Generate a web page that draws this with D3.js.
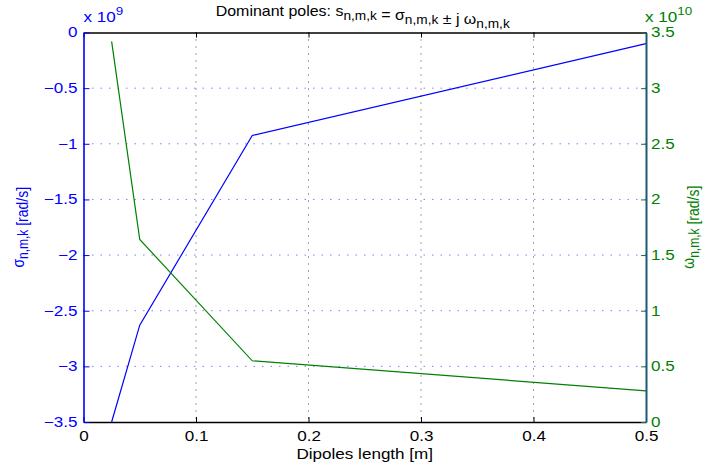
<!DOCTYPE html>
<html>
<head>
<meta charset="utf-8">
<script src="https://cdn.jsdelivr.net/npm/d3@7"></script>
<style>
  body { margin: 0; background: #fff; }
  text { font-family: "Liberation Sans", Arial, sans-serif; }
</style>
</head>
<body>
<svg id="chart" width="706" height="470"></svg>
<script>
// dipole lengths [m]
let lengths = [0.025, 0.05, 0.15, 0.5]
// real part (x 1e9 rad/s)
let sigma = [-3.5, -2.63, -0.925, -0.1]
// imaginary part (x 1e10 rad/s)
let omega = [3.42, 1.64, 0.55, 0.28]

let xTicks = [0, 0.1, 0.2, 0.3, 0.4, 0.5]
let leftTicks = [0, -0.5, -1, -1.5, -2, -2.5, -3, -3.5]
let rightTicks = [0, 0.5, 1, 1.5, 2, 2.5, 3, 3.5]

let blue = "#0000ff"
let green = "#008000"
let rightAxisColor = "#1a5a78"

let svg = d3.select("#chart")
let pLeft = 83.5, pRight = 646, pTop = 32.5, pBottom = 422
let fontSize = "14px"
let subSize = "12px"
// the original picture is a bit wider than tall, text looks stretched sideways
let sx = 1.22

let x = d3.scaleLinear().domain([0, 0.5]).range([pLeft, pRight])
let yL = d3.scaleLinear().domain([-3.5, 0]).range([pBottom, pTop])
let yR = d3.scaleLinear().domain([0, 3.5]).range([pBottom, pTop])

let fmt = d => d === 0 ? "0" : String(d).replace("-", "\u2212")

// stretch text horizontally around its own anchor
function stretch(sel, s) {
  sel.each(function() {
    let t = d3.select(this)
    let x0 = +t.attr("x") || 0
    t.attr("transform", `translate(${x0 * (1 - s)},0) scale(${s},1)`)
  })
}

// grid
svg.append("g").selectAll("line")
  .data(leftTicks.slice(1, -1))
  .join("line")
  .attr("x1", pLeft).attr("x2", pRight)
  .attr("y1", d => yL(d)).attr("y2", d => yL(d))
  .attr("stroke", "#8080ff")
  .attr("stroke-width", 1)
  .attr("stroke-dasharray", "1.5,7")
svg.append("g").selectAll("line")
  .data(xTicks.slice(1, -1))
  .join("line")
  .attr("x1", d => x(d)).attr("x2", d => x(d))
  .attr("y1", pTop).attr("y2", pBottom)
  .attr("stroke", "#444")
  .attr("stroke-width", 1)
  .attr("stroke-dasharray", "1,6")

// lines
let lineL = d3.line().x((d, i) => x(lengths[i])).y(d => yL(d))
let lineR = d3.line().x((d, i) => x(lengths[i])).y(d => yR(d))
svg.append("path").datum(sigma)
  .attr("d", lineL).attr("fill", "none").attr("stroke", blue).attr("stroke-width", 1.2)
svg.append("path").datum(omega)
  .attr("d", lineR).attr("fill", "none").attr("stroke", green).attr("stroke-width", 1.2)

// x axis (bottom + top), ticks inward
let xAxis = svg.append("g").attr("transform", `translate(0,${pBottom})`)
  .call(d3.axisBottom(x).tickValues(xTicks).tickSizeInner(-5).tickSizeOuter(0).tickPadding(9).tickFormat(fmt))
xAxis.select(".domain").attr("stroke", "#000").attr("stroke-width", 1.3)
xAxis.selectAll("text").style("font-size", fontSize).attr("fill", "#000").call(stretch, sx)
let xTop = svg.append("g").attr("transform", `translate(0,${pTop})`)
  .call(d3.axisTop(x).tickValues(xTicks).tickSizeInner(-5).tickSizeOuter(0).tickFormat(""))
xTop.select(".domain").attr("stroke", "#000").attr("stroke-width", 1.3)

// left axis
let lAxis = svg.append("g").attr("transform", `translate(${pLeft},0)`)
  .call(d3.axisLeft(yL).tickValues(leftTicks).tickSizeInner(-6).tickSizeOuter(0).tickPadding(6).tickFormat(fmt))
lAxis.select(".domain").attr("stroke", blue).attr("stroke-width", 1.6)
lAxis.selectAll(".tick line").attr("stroke", blue)
lAxis.selectAll("text").style("font-size", fontSize).attr("fill", blue).call(stretch, sx)

// right axis
let rAxis = svg.append("g").attr("transform", `translate(${pRight},0)`)
  .call(d3.axisRight(yR).tickValues(rightTicks).tickSizeInner(-5).tickSizeOuter(0).tickPadding(5).tickFormat(fmt))
rAxis.select(".domain").attr("stroke", rightAxisColor).attr("stroke-width", 2)
rAxis.selectAll(".tick line").attr("stroke", "#1c6b4a")
rAxis.selectAll("text").style("font-size", fontSize).attr("fill", green).call(stretch, sx)

// exponent labels
let expL = svg.append("text").attr("x", pLeft).attr("y", 22).attr("fill", blue).style("font-size", fontSize)
expL.append("tspan").text("x 10")
expL.append("tspan").attr("dy", -7).style("font-size", "11px").text("9")
expL.call(stretch, sx)
let expR = svg.append("text").attr("x", pRight - 1).attr("y", 22).attr("fill", green).style("font-size", fontSize)
expR.append("tspan").text("x 10")
expR.append("tspan").attr("dy", -7).style("font-size", "11px").text("10")
expR.call(stretch, sx)

// helper for text with subscripts
function richText(sel, parts) {
  parts.forEach(p => {
    if (p.sub) {
      sel.append("tspan").attr("dy", 4).style("font-size", subSize).text(p.sub)
      sel.append("tspan").attr("dy", -4).text("")
    } else {
      sel.append("tspan").text(p.t)
    }
  })
}

// title
let title = svg.append("text").attr("x", (pLeft + pRight) / 2 - 2).attr("y", 16)
  .attr("text-anchor", "middle").attr("fill", "#000").style("font-size", fontSize)
richText(title, [{t: "Dominant poles: s"}, {sub: "n,m,k"}, {t: " = \u03c3"}, {sub: "n,m,k"},
  {t: " \u00b1 j \u03c9"}, {sub: "n,m,k"}])
title.call(stretch, 1.14)

// x label
svg.append("text").attr("x", (pLeft + pRight) / 2).attr("y", 459)
  .attr("text-anchor", "middle").style("font-size", fontSize).text("Dipoles length [m]")
  .call(stretch, sx)

// y labels
let ylL = svg.append("text")
  .attr("transform", `translate(23.5,${(pTop + pBottom) / 2}) rotate(-90) scale(1,${sx})`)
  .attr("text-anchor", "middle").attr("fill", blue).style("font-size", fontSize)
richText(ylL, [{t: "\u03c3"}, {sub: "n,m,k"}, {t: " [rad/s]"}])
let ylR = svg.append("text")
  .attr("transform", `translate(694,${(pTop + pBottom) / 2}) rotate(-90) scale(1,${sx})`)
  .attr("text-anchor", "middle").attr("fill", green).style("font-size", fontSize)
richText(ylR, [{t: "\u03c9"}, {sub: "n,m,k"}, {t: " [rad/s]"}])
</script>
</body>
</html>
